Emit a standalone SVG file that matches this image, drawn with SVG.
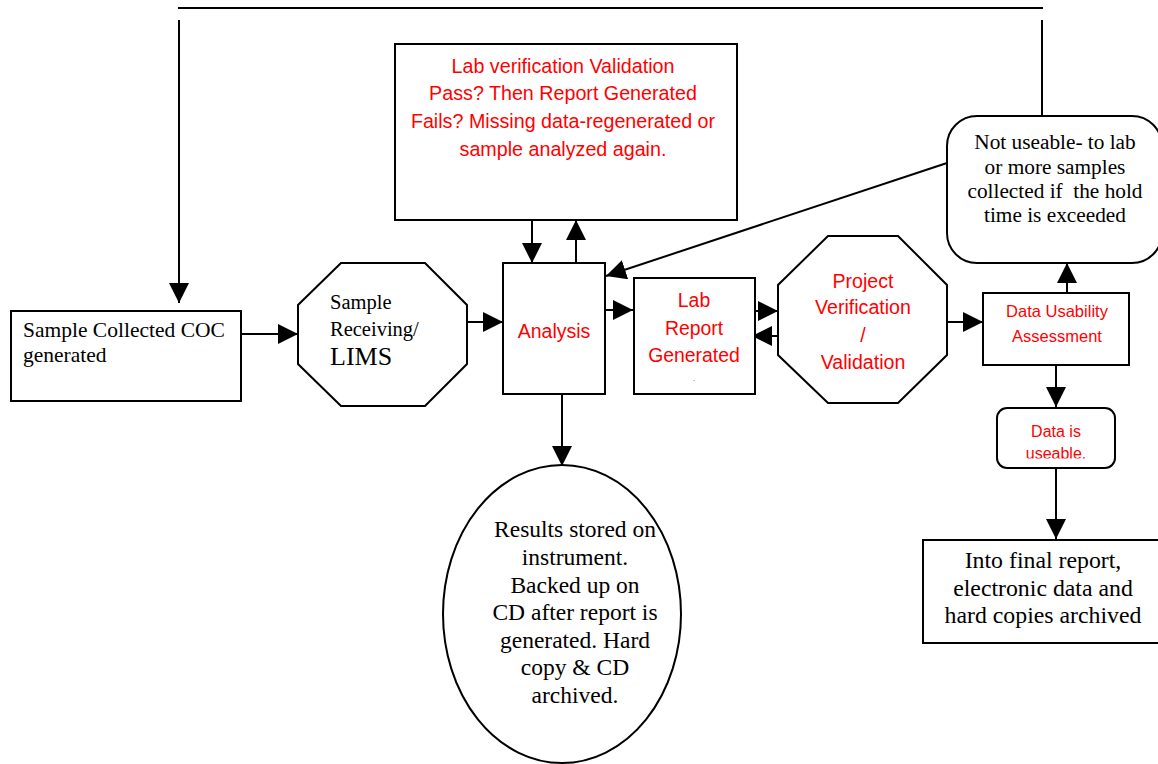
<svg xmlns="http://www.w3.org/2000/svg" width="1158" height="764" viewBox="0 0 1158 764">
<style>
.shape{fill:#fff;stroke:#000;stroke-width:2}
.line{fill:none;stroke:#000;stroke-width:2}
.serif{font-family:"Liberation Serif","Times New Roman",serif;fill:#000}
.sans{font-family:"Liberation Sans",Arial,sans-serif;fill:#ff0000}
.c{text-anchor:middle}
</style>
<defs>
<marker id="ah" viewBox="0 0 20 20" refX="20" refY="10" markerWidth="20" markerHeight="20" markerUnits="userSpaceOnUse" orient="auto">
<path d="M0,0 L20,10 L0,20 Z" fill="#000"/>
</marker>
<clipPath id="clipUse"><rect x="990" y="400" width="140" height="58.5"/></clipPath>
</defs>
<rect width="1158" height="764" fill="#fff"/>
<g id="connectors">
<line class="line" x1="178" y1="8" x2="1043" y2="8"/>
<line class="line" x1="179" y1="20" x2="179" y2="303" marker-end="url(#ah)"/>
<line class="line" x1="1042" y1="20" x2="1042" y2="116"/>
<line class="line" x1="228" y1="334" x2="298" y2="334" marker-end="url(#ah)"/>
<line class="line" x1="444" y1="322" x2="503" y2="322" marker-end="url(#ah)"/>
<line class="line" x1="532" y1="220" x2="532" y2="263" marker-end="url(#ah)"/>
<line class="line" x1="576" y1="263" x2="576" y2="220" marker-end="url(#ah)"/>
<line class="line" x1="947" y1="163" x2="606" y2="276" marker-end="url(#ah)"/>
<line class="line" x1="605" y1="310" x2="633" y2="310" marker-end="url(#ah)"/>
<line class="line" x1="730" y1="311" x2="778" y2="311" marker-end="url(#ah)"/>
<line class="line" x1="795" y1="336" x2="752" y2="336" marker-end="url(#ah)"/>
<line class="line" x1="939" y1="322" x2="983" y2="322" marker-end="url(#ah)"/>
<line class="line" x1="1067" y1="293" x2="1067" y2="263" marker-end="url(#ah)"/>
<line class="line" x1="1056" y1="365" x2="1056" y2="407" marker-end="url(#ah)"/>
<line class="line" x1="1056" y1="468" x2="1056" y2="539" marker-end="url(#ah)"/>
<line class="line" x1="562" y1="394" x2="562" y2="466" marker-end="url(#ah)"/>
</g>
<g id="sample-collected">
<rect class="shape" x="11" y="311" width="230" height="90"/>
<text class="serif" x="23" y="337" font-size="21.5">Sample Collected COC</text>
<text class="serif" x="23" y="362" font-size="21.5">generated</text>
</g>
<g id="sample-receiving">
<polygon class="shape" points="341,263 425,263 467,305 467,364 425,406 341,406 298,364 298,305"/>
<text class="serif" x="330" y="309" font-size="20.5">Sample</text>
<text class="serif" x="330" y="336" font-size="20.5">Receiving/</text>
<text class="serif" x="330" y="365" font-size="26">LIMS</text>
</g>
<g id="lab-verification">
<rect class="shape" x="395" y="44" width="342" height="176"/>
<text class="sans c" x="563" y="73" font-size="19.7">Lab verification Validation</text>
<text class="sans c" x="563" y="100" font-size="19.7">Pass? Then Report Generated</text>
<text class="sans c" x="563" y="128" font-size="19.7">Fails? Missing data-regenerated or</text>
<text class="sans c" x="563" y="156" font-size="19.7">sample analyzed again.</text>
</g>
<g id="analysis">
<rect class="shape" x="503" y="263" width="102" height="131"/>
<text class="sans c" x="554" y="338" font-size="19.5">Analysis</text>
</g>
<g id="lab-report">
<rect class="shape" x="634" y="278" width="121" height="116"/>
<text class="sans c" x="694" y="307" font-size="19.4">Lab</text>
<text class="sans c" x="694" y="335" font-size="19.4">Report</text>
<text class="sans c" x="694" y="362" font-size="19.4">Generated</text>
<text class="sans c" x="694" y="381" font-size="8">.</text>
</g>
<g id="project-verification">
<polygon class="shape" points="828,236 898,236 947,285 947,355 898,403 828,403 778,355 778,285"/>
<text class="sans c" x="863" y="288" font-size="19.6">Project</text>
<text class="sans c" x="863" y="314" font-size="19.6">Verification</text>
<text class="sans c" x="863" y="342" font-size="19.6">/</text>
<text class="sans c" x="863" y="369" font-size="19.6">Validation</text>
</g>
<g id="not-useable">
<rect class="shape" x="947" y="116" width="215" height="147" rx="30" ry="30"/>
<text class="serif c" x="1055" y="149" font-size="21.3">Not useable- to lab</text>
<text class="serif c" x="1055" y="174" font-size="21.3">or more samples</text>
<text class="serif c" x="1055" y="198" font-size="21.3" xml:space="preserve">collected if  the hold</text>
<text class="serif c" x="1055" y="222" font-size="21.3">time is exceeded</text>
</g>
<g id="data-usability">
<rect class="shape" x="983" y="293" width="146" height="72"/>
<text class="sans c" x="1057" y="317" font-size="16.5">Data Usability</text>
<text class="sans c" x="1057" y="342" font-size="16.5">Assessment</text>
</g>
<g id="data-useable">
<rect class="shape" x="997" y="408" width="118" height="60" rx="10" ry="10"/>
<text class="sans c" x="1056" y="437" font-size="16">Data is</text>
<text class="sans c" x="1056" y="459" font-size="16" clip-path="url(#clipUse)">useable.</text>
</g>
<g id="final-report">
<rect class="shape" x="923" y="540" width="240" height="103"/>
<text class="serif c" x="1043" y="568" font-size="23.8">Into final report,</text>
<text class="serif c" x="1043" y="596" font-size="23.8">electronic data and</text>
<text class="serif c" x="1043" y="623" font-size="23.8">hard copies archived</text>
</g>
<g id="results-stored">
<ellipse class="shape" cx="562" cy="614" rx="119" ry="149"/>
<text class="serif c" x="575" y="537" font-size="23.5">Results stored on</text>
<text class="serif c" x="575" y="565" font-size="23.5">instrument.</text>
<text class="serif c" x="575" y="593" font-size="23.5">Backed up on</text>
<text class="serif c" x="575" y="620" font-size="23.5">CD after report is</text>
<text class="serif c" x="575" y="648" font-size="23.5">generated. Hard</text>
<text class="serif c" x="575" y="675" font-size="23.5">copy &amp; CD</text>
<text class="serif c" x="575" y="703" font-size="23.5">archived.</text>
</g>
</svg>
